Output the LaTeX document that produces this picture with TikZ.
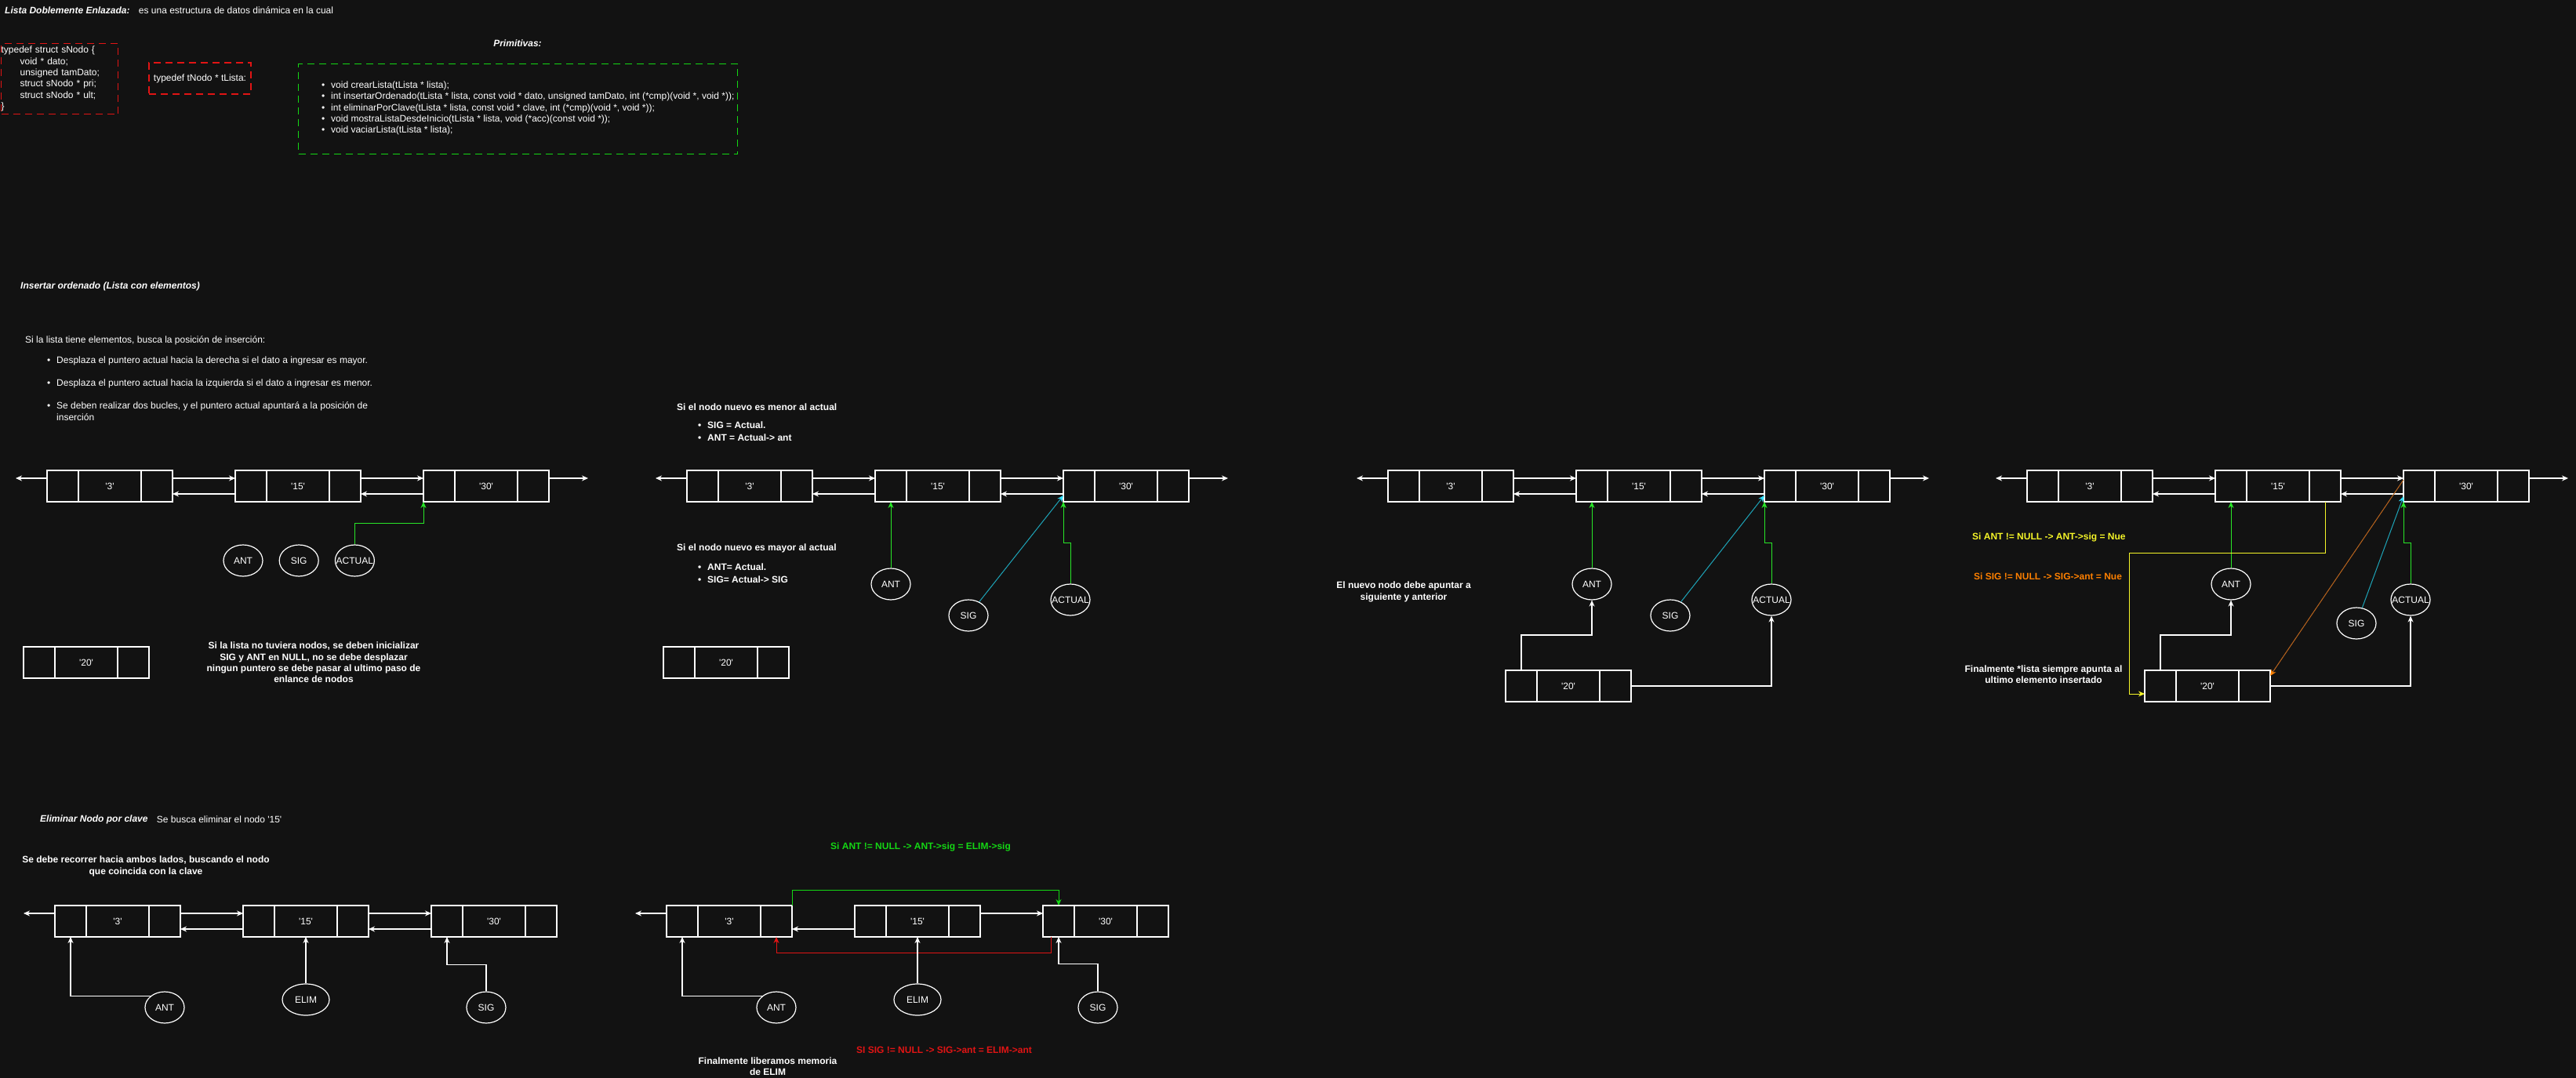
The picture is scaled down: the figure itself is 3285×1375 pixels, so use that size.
\documentclass[tikz,border=0pt]{standalone}
\usepackage{fontspec}
\setmainfont{Liberation Sans}
\usepackage{tikz}
\usetikzlibrary{positioning, arrows.meta, shapes.geometric}
\usepackage{xcolor}

\definecolor{fondo}{RGB}{18,18,18}
\definecolor{verde}{RGB}{40,230,40}
\definecolor{verdeTxt}{RGB}{20,215,20}
\definecolor{cianLinea}{RGB}{30,165,185}
\definecolor{cian}{RGB}{50,225,255}
\definecolor{amarillo}{RGB}{245,245,40}
\definecolor{naranja}{RGB}{255,128,0}
\definecolor{naranjaLinea}{RGB}{185,100,30}
\definecolor{rojo}{RGB}{225,20,20}

\newcommand{\vin}{\makebox[12pt][l]{\textbullet}}
\newcommand{\val}[1]{\textquotesingle#1\textquotesingle}

\begin{document}
\begin{tikzpicture}[x=1pt, y=-1pt, >={Stealth[length=8pt,width=7pt]},
    txt/.style={text=white, inner sep=0pt, font=\fontsize{12}{14.4}\selectfont},
    txtb/.style={txt, font=\fontsize{12}{14.4}\selectfont\bfseries},
    titulo/.style={txt, font=\fontsize{12}{14.4}\selectfont\bfseries\itshape},
    caja/.style={draw=white, line width=1.2pt, minimum width=160pt, minimum height=40pt,
        inner sep=0pt, outer sep=0pt, text=white, font=\fontsize{12}{14.4}\selectfont,
        path picture={\draw[white, line width=1.2pt]
            ([xshift=40pt]path picture bounding box.north west) -- ([xshift=40pt]path picture bounding box.south west)
            ([xshift=-40pt]path picture bounding box.north east) -- ([xshift=-40pt]path picture bounding box.south east);}},
    puntero/.style={ellipse, draw=white, line width=1.2pt, minimum width=50pt, minimum height=40pt,
        inner sep=0pt, text=white, font=\fontsize{12}{14.4}\selectfont},
    enlace/.style={->, white, line width=1.2pt},
    apunta/.style={->, verde, line width=1pt},
    apuntaCian/.style={-{Stealth[length=8pt,width=7pt,color=cian]}, cianLinea, line width=1pt},
    marco/.style={draw, line width=1.2pt, dash pattern=on 9pt off 6pt, inner sep=0pt}]

    \path[use as bounding box, fill=fondo] (0,0) rectangle (3285,1375);

    % --- Definicion ---
    \node[titulo, anchor=west] (tit) at (6,13) {Lista Doblemente Enlazada:};
    \node[txt, right=11pt of tit] (def) {es una estructura de datos dinámica en la cual};

    \node[marco, draw=rojo, anchor=north west, minimum height=90pt, text width=149pt,
        inner xsep=5pt, align=left, txt, font=\fontsize{12}{14.3}\selectfont] (estructura) at (1,55) {
        typedef struct sNodo \{\\
        \hspace*{24pt}void * dato;\\
        \hspace*{24pt}unsigned tamDato;\\
        \hspace*{24pt}struct sNodo * pri;\\
        \hspace*{24pt}struct sNodo * ult;\\
        \}};
    \node[marco, draw=rojo, minimum width=130pt, minimum height=40pt, txt] (tipo) at (255,100)
        {typedef tNodo * tLista:};

    \node[titulo] (prim) at (660,55) {Primitivas:};
    \node[marco, draw=verdeTxt, anchor=north west, minimum width=560pt, minimum height=115pt] (marcoPrim) at (380,81) {};
    \node[txt, anchor=west, align=left, font=\fontsize{12}{14.3}\selectfont] (primitivas) at (410,138) {
        \vin void crearLista(tLista * lista);\\
        \vin int insertarOrdenado(tLista * lista, const void * dato, unsigned tamDato, int (*cmp)(void *, void *));\\
        \vin int eliminarPorClave(tLista * lista, const void * clave, int (*cmp)(void *, void *));\\
        \vin void mostraListaDesdeInicio(tLista * lista, void (*acc)(const void *));\\
        \vin void vaciarLista(tLista * lista);};

    % --- Insertar ordenado ---
    \node[titulo, anchor=west] (insTit) at (26,365) {Insertar ordenado (Lista con elementos)};
    \node[txt, anchor=west] (insIntro) at (32,434) {Si la lista tiene elementos, busca la posición de inserción:};
    \node[txt, anchor=north west, align=left] (insPasos) at (60,455) {
        \vin Desplaza el puntero actual hacia la derecha si el dato a ingresar es mayor.\\[14.6pt]
        \vin Desplaza el puntero actual hacia la izquierda si el dato a ingresar es menor.\\[14.6pt]
        \vin Se deben realizar dos bucles, y el puntero actual apuntará a la posición de\\
        \hspace*{12pt}inserción};

    % --- Lista 1 ---
    \node[caja] (a3) at (140,620) {\val{3}};
    \node[caja, right=80pt of a3] (a15) {\val{15}};
    \node[caja, right=80pt of a15] (a30) {\val{30}};
    \draw[enlace] ([yshift=10pt]a3.west) -- ++(-40,0);
    \draw[enlace] ([yshift=10pt]a3.east) -- ([yshift=10pt]a15.west);
    \draw[enlace] ([yshift=-10pt]a15.west) -- ([yshift=-10pt]a3.east);
    \draw[enlace] ([yshift=10pt]a15.east) -- ([yshift=10pt]a30.west);
    \draw[enlace] ([yshift=-10pt]a30.west) -- ([yshift=-10pt]a15.east);
    \draw[enlace] ([yshift=10pt]a30.east) -- ++(50,0);

    \node[puntero] (aAnt) at (310,715) {ANT};
    \node[puntero, right=20pt of aAnt] (aSig) {SIG};
    \node[puntero, right=20pt of aSig] (aAct) {\makebox[0pt]{ACTUAL}};
    \draw[apunta] (aAct.north) -- ++(0,-27) -| (a30.south west);

    \node[caja] (a20) at (110,845) {\val{20}};
    \node[txtb, align=center] (aNota) at (400,845) {Si la lista no tuviera nodos, se deben inicializar\\
        SIG y ANT en NULL, no se debe desplazar\\ningun puntero se debe pasar al ultimo paso de\\enlance de nodos};

    % --- Lista 2 ---
    \node[txtb, anchor=west] (bMenor) at (863,519) {Si el nodo nuevo es menor al actual};
    \node[txtb, anchor=north west, align=left] (bMenorPasos) at (890,538) {\vin SIG = Actual.\\[1.6pt]\vin ANT = Actual-> ant};
    \node[txtb, anchor=west] (bMayor) at (863,699) {Si el nodo nuevo es mayor al actual};
    \node[txtb, anchor=north west, align=left] (bMayorPasos) at (890,719) {\vin ANT= Actual.\\[1.6pt]\vin SIG= Actual-> SIG};

    \node[caja] (b3) at (956,620) {\val{3}};
    \node[caja, right=80pt of b3] (b15) {\val{15}};
    \node[caja, right=80pt of b15] (b30) {\val{30}};
    \draw[enlace] ([yshift=10pt]b3.west) -- ++(-40,0);
    \draw[enlace] ([yshift=10pt]b3.east) -- ([yshift=10pt]b15.west);
    \draw[enlace] ([yshift=-10pt]b15.west) -- ([yshift=-10pt]b3.east);
    \draw[enlace] ([yshift=10pt]b15.east) -- ([yshift=10pt]b30.west);
    \draw[enlace] ([yshift=-10pt]b30.west) -- ([yshift=-10pt]b15.east);
    \draw[enlace] ([yshift=10pt]b30.east) -- ++(50,0);

    \node[puntero] (bAnt) at (1136,745) {ANT};
    \node[puntero] (bSig) at (1235,785) {SIG};
    \node[puntero] (bAct) at (1365,765) {\makebox[0pt]{ACTUAL}};
    \draw[apunta] (bAnt.north) -- (bAnt.north |- b15.south);
    \draw[apuntaCian] (bSig) -- ([yshift=8pt]b30.south west);
    \draw[apunta] (bAct.north) -- ++(0,-52) -| (b30.south west);

    \node[caja] (b20) at (926,845) {\val{20}};

    % --- Lista 3 ---
    \node[caja] (c3) at (1850,620) {\val{3}};
    \node[caja, right=80pt of c3] (c15) {\val{15}};
    \node[caja, right=80pt of c15] (c30) {\val{30}};
    \draw[enlace] ([yshift=10pt]c3.west) -- ++(-40,0);
    \draw[enlace] ([yshift=10pt]c3.east) -- ([yshift=10pt]c15.west);
    \draw[enlace] ([yshift=-10pt]c15.west) -- ([yshift=-10pt]c3.east);
    \draw[enlace] ([yshift=10pt]c15.east) -- ([yshift=10pt]c30.west);
    \draw[enlace] ([yshift=-10pt]c30.west) -- ([yshift=-10pt]c15.east);
    \draw[enlace] ([yshift=10pt]c30.east) -- ++(50,0);

    \node[txtb, align=center] (cNota) at (1790,755) {El nuevo nodo debe apuntar a\\siguiente y anterior};

    \node[puntero] (cAnt) at (2030,745) {ANT};
    \node[puntero] (cSig) at (2130,785) {SIG};
    \node[puntero] (cAct) at (2259,765) {\makebox[0pt]{ACTUAL}};
    \draw[apunta] (cAnt.north) -- (cAnt.north |- c15.south);
    \draw[apuntaCian] (cSig) -- ([yshift=8pt]c30.south west);
    \draw[apunta] (cAct.north) -- ++(0,-52) -| (c30.south west);

    \node[caja] (c20) at (2000,875) {\val{20}};
    \draw[enlace] ([xshift=20pt]c20.north west) -- ++(0,-45) -| (cAnt.south);
    \draw[enlace] (c20.east) -| (cAct.south);

    % --- Lista 4 ---
    \node[caja] (d3) at (2665,620) {\val{3}};
    \node[caja, right=80pt of d3] (d15) {\val{15}};
    \node[caja, right=80pt of d15] (d30) {\val{30}};
    \draw[enlace] ([yshift=10pt]d3.west) -- ++(-40,0);
    \draw[enlace] ([yshift=10pt]d3.east) -- ([yshift=10pt]d15.west);
    \draw[enlace] ([yshift=-10pt]d15.west) -- ([yshift=-10pt]d3.east);
    \draw[enlace] ([yshift=10pt]d15.east) -- ([yshift=10pt]d30.west);
    \draw[enlace] ([yshift=-10pt]d30.west) -- ([yshift=-10pt]d15.east);
    \draw[enlace] ([yshift=10pt]d30.east) -- ++(50,0);

    \node[txtb, text=amarillo, anchor=west] (dSiAnt) at (2515,685) {Si ANT != NULL -> ANT->sig = Nue};
    \node[txtb, text=naranja, anchor=west] (dSiSig) at (2517,735) {Si SIG != NULL -> SIG->ant = Nue};
    \node[txtb, align=center] (dNota) at (2606,860) {Finalmente *lista siempre apunta al\\ultimo elemento insertado};

    \node[puntero] (dAnt) at (2845,745) {ANT};
    \node[puntero] (dSig) at (3005,795) {SIG};
    \node[puntero] (dAct) at (3074,765) {\makebox[0pt]{ACTUAL}};
    \draw[apunta] (dAnt.north) -- (dAnt.north |- d15.south);
    \draw[apuntaCian] (dSig) -- ([yshift=7pt]d30.south west);
    \draw[apunta] (dAct.north) -- ++(0,-52) -| (d30.south west);

    \node[caja] (d20) at (2815,875) {\val{20}};
    \draw[enlace] ([xshift=20pt]d20.north west) -- ++(0,-45) -| (dAnt.south);
    \draw[enlace] (d20.east) -| (dAct.south);
    \draw[->, amarillo, line width=1pt] ([xshift=-20pt]d15.south east) -- ++(0,65)
        -| ([xshift=-20pt,yshift=-10pt]d20.west) -- ([yshift=-10pt]d20.west);
    \draw[-{Stealth[length=8pt,width=7pt,color=naranja]}, naranjaLinea, line width=1pt]
        ([yshift=8pt]d30.west) -- ([yshift=13pt]d20.east);

    % --- Eliminar por clave ---
    \node[titulo, anchor=west] (elimTit) at (51,1045) {Eliminar Nodo por clave};
    \node[txt, right=11pt of elimTit] (elimDesc) {Se busca eliminar el nodo \val{15}};
    \node[txtb, align=center] (eNota) at (186,1105) {Se debe recorrer hacia ambos lados, buscando el nodo\\que coincida con la clave};

    \node[caja] (e3) at (150,1175) {\val{3}};
    \node[caja, right=80pt of e3] (e15) {\val{15}};
    \node[caja, right=80pt of e15] (e30) {\val{30}};
    \draw[enlace] ([yshift=10pt]e3.west) -- ++(-40,0);
    \draw[enlace] ([yshift=10pt]e3.east) -- ([yshift=10pt]e15.west);
    \draw[enlace] ([yshift=-10pt]e15.west) -- ([yshift=-10pt]e3.east);
    \draw[enlace] ([yshift=10pt]e15.east) -- ([yshift=10pt]e30.west);
    \draw[enlace] ([yshift=-10pt]e30.west) -- ([yshift=-10pt]e15.east);

    \node[puntero] (eAnt) at (210,1285) {ANT};
    \node[puntero, minimum width=60pt] (eElim) at (390,1275) {ELIM};
    \node[puntero] (eSig) at (620,1285) {SIG};
    \draw[enlace] (eAnt.140) -| ([xshift=20pt]e3.south west);
    \draw[enlace] (eElim.north) -- (e15.south);
    \draw[enlace] (eSig.north) -- ++(0,-34) -| ([xshift=20pt]e30.south west);

    % --- Eliminar: enlace final ---
    \node[txtb, text=verdeTxt, anchor=west] (fSiAnt) at (1059,1080) {Si ANT != NULL -> ANT->sig = ELIM->sig};

    \node[caja] (f3) at (930,1175) {\val{3}};
    \node[caja, right=80pt of f3] (f15) {\val{15}};
    \node[caja, right=80pt of f15] (f30) {\val{30}};
    \draw[enlace] ([yshift=10pt]f3.west) -- ++(-40,0);
    \draw[enlace] ([yshift=-10pt]f15.west) -- ([yshift=-10pt]f3.east);
    \draw[enlace] ([yshift=10pt]f15.east) -- ([yshift=10pt]f30.west);
    \draw[->, verdeTxt, line width=1pt] (f3.north east) -- ++(0,-20) -| ([xshift=20pt]f30.north west);
    \draw[->, rojo, line width=1pt] ([xshift=10pt]f30.south west) -- ++(0,20) -| ([xshift=-20pt]f3.south east);

    \node[puntero] (fAnt) at (990,1285) {ANT};
    \node[puntero, minimum width=60pt] (fElim) at (1170,1275) {ELIM};
    \node[puntero] (fSig) at (1400,1285) {SIG};
    \draw[enlace] (fAnt.140) -| ([xshift=20pt]f3.south west);
    \draw[enlace] (fElim.north) -- (f15.south);
    \draw[enlace] (fSig.north) -- ++(0,-35) -| ([xshift=20pt]f30.south west);

    \node[txtb, text=rojo, anchor=west] (fSiSig) at (1092,1339) {SI SIG != NULL -> SIG->ant = ELIM->ant};
    \node[txtb, align=center] (fNota) at (979,1360) {Finalmente liberamos memoria\\de ELIM};

\end{tikzpicture}
\end{document}
